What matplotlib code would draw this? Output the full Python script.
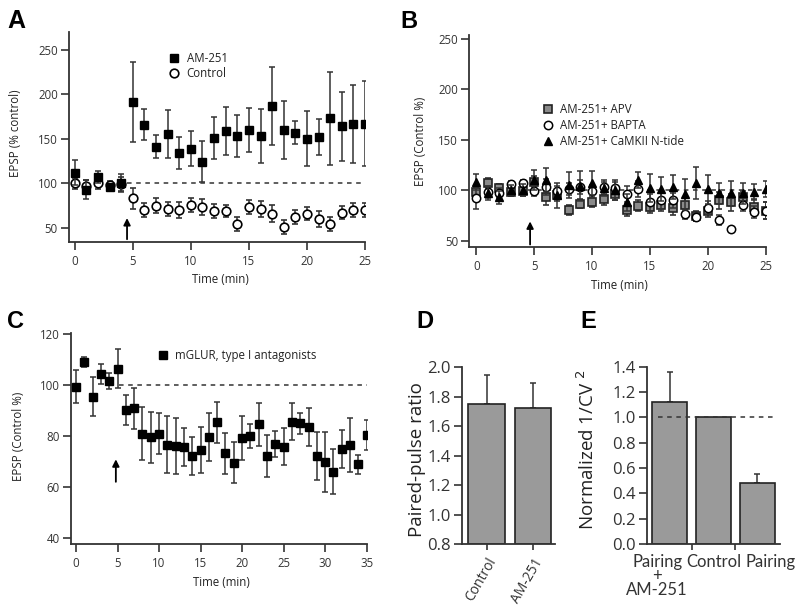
import matplotlib
matplotlib.use("Agg")
import matplotlib.pyplot as plt
import numpy as np

plt.rcParams['font.family'] = ['Open Sans', 'DejaVu Sans']
plt.rcParams['axes.linewidth'] = 1.3
plt.rcParams['axes.edgecolor'] = '#333333'
plt.rcParams['xtick.color'] = '#333333'
plt.rcParams['ytick.color'] = '#333333'
plt.rcParams['text.color'] = '#222222'
plt.rcParams['axes.labelcolor'] = '#222222'

# ---- panel A ----
time_a = list(range(0, 26))
am251_a = [112, 93, 107, 96, 100, 191, 166, 141, 155, 134, 139, 124, 151, 159, 153, 160, 153,
           187, 160, 157, 150, 152, 173, 164, 167, 167]
am251_a_err = [14, 11, 7, 3, 10, 45, 17, 13, 27, 18, 20, 23, 24, 27, 24, 25, 30,
               44, 33, 13, 31, 20, 52, 39, 44, 48]
control_a = [100, 97, 100, 98, 99, 83, 70, 75, 71, 70, 76, 73, 69, 69, 54, 73, 71,
             66, 51, 62, 66, 60, 54, 67, 70, 70]
control_a_err = [6, 7, 6, 4, 8, 12, 8, 8, 8, 9, 8, 9, 8, 7, 8, 8, 9, 10, 8, 8, 7, 9, 8, 7, 8, 8]

# ---- panel B ----
time_b = list(range(0, 26))
apv_b = [98, 107, 102, 98, 99, 108, 93, 95, 81, 87, 88, 91, 96, 81, 85, 84, 86, 83, 86, 75,
         80, 90, 88, 93, 84, 80]
apv_b_err = [5, 5, 4, 4, 5, 6, 7, 6, 5, 4, 4, 5, 6, 6, 5, 6, 6, 7, 7, 5, 6, 8, 8, 6, 7, 8]
bapta_b = [92, 98, 97, 106, 107, 99, 103, 99, 101, 103, 99, 103, 102, 96, 101, 88, 90, 90, 77,
           74, 83, 71, 62, 86, 79, 80]
bapta_b_err = [10, 6, 5, 3, 3, 5, 8, 5, 6, 7, 6, 5, 6, 8, 8, 8, 8, 7, 5, 4, 6, 5, 0, 6, 6, 8]
camkii_b = [108, 97, 93, 100, 100, 110, 110, 95, 105, 104, 107, 102, 100, 88, 110, 102, 101,
            103, 96, 107, 101, 97, 97, 97, 98, 101]
camkii_b_err = [8, 7, 6, 5, 6, 10, 12, 12, 13, 15, 12, 8, 10, 8, 8, 14, 12, 12, 15, 16, 14,
                10, 12, 10, 8, 8]

# ---- panel C ----
time_c = list(range(0, 36))
mglur_c = [99.3, 109, 95.4, 104.3, 101.6, 106.5, 90.2, 90.9, 81, 79.5, 81, 76.7, 76, 75.6,
           72.3, 74.5, 79.7, 85.4, 73.2, 69.5, 79.3, 80, 84.6, 72.2, 76.9, 75.8, 85.6, 85,
           83.6, 72.2, 69.9, 66, 74.9, 76.5, 68.9, 80.4]
mglur_c_err = [6.5, 2, 7.6, 4, 3, 7.5, 6, 8, 10.5, 10, 8, 11, 11, 7.5, 7.5, 9, 9.4, 8, 8, 8,
               8.5, 4.7, 8.5, 8.2, 5.2, 7.2, 7.2, 4.2, 7.3, 9.5, 11.8, 8.8, 7.5, 10.5, 3.6, 6]

# ---- panel D ----
ppr_labels = ["Control", "AM-251"]
ppr_vals = [1.75, 1.725]
ppr_err = [0.2, 0.17]

# ---- panel E ----
cv_labels = ["Pairing\n+\nAM-251", "Control", "Pairing"]
cv_vals = [1.12, 1.0, 0.48]
cv_err = [0.24, 0.0, 0.07]

W, H = 800, 606
fig = plt.figure(figsize=(8, 6.06), dpi=100)

SMALL = 8.3


def box(l, r, t, b):
    return [l / W, 1 - b / H, (r - l) / W, (b - t) / H]


def style(ax, fs=SMALL):
    for s in ['top', 'right']:
        ax.spines[s].set_visible(False)
    ax.tick_params(axis='y', direction='out', length=6, width=1.2, labelsize=fs, pad=2)
    ax.tick_params(axis='x', direction='out', length=5.5, width=1.2, labelsize=fs, pad=4)


def marker_legend(ax, conts, labels, anchor, spacing=0.45):
    handles = [c[0] for c in conts]
    ax.legend(handles, labels, loc='upper left', bbox_to_anchor=anchor, frameon=False,
              fontsize=SMALL, handlelength=1.0, handletextpad=0.6, borderpad=0,
              borderaxespad=0, labelspacing=spacing)


ebkw = dict(ecolor='#333333', elinewidth=1.1, capsize=2.4, capthick=1.1, linestyle='none')

# A
axA = fig.add_axes(box(69, 365, 32, 242))
style(axA)
cA2 = axA.errorbar(time_a, control_a, yerr=control_a_err, marker='o', ms=6.2, mfc='white',
                   mec='black', mew=1.2, zorder=3, **ebkw)
cA1 = axA.errorbar(time_a, am251_a, yerr=am251_a_err, marker='s', ms=6, mfc='black',
                   mec='black', zorder=4, **ebkw)
axA.plot([4.5, 25], [100, 100], ls=(0, (3, 3)), color='#333333', lw=1.1)
axA.annotate('', xy=(4.5, 64), xytext=(4.5, 34),
             arrowprops=dict(arrowstyle='-|>', color='black', lw=1.3, mutation_scale=10))
axA.set_xlim(-0.5, 25)
axA.set_ylim(34, 270)
axA.set_xticks([0, 5, 10, 15, 20, 25])
axA.set_yticks([50, 100, 150, 200, 250])
axA.set_xlabel('Time (min)', fontsize=SMALL)
axA.set_ylabel('EPSP (% control)', fontsize=SMALL)
axA.xaxis.set_label_coords(0.51, -0.148)
axA.yaxis.set_label_coords(-0.16, 0.52)
marker_legend(axA, [cA1, cA2], ['AM-251', 'Control'], (0.335, 0.905), spacing=0.15)

# B
axB = fig.add_axes(box(469.3, 765.7, 35, 247.3))
style(axB)
axB.plot([4.5, 25], [100, 100], ls=(0, (3, 3)), color='#333333', lw=1.1)
cB1 = axB.errorbar(time_b, apv_b, yerr=apv_b_err, marker='s', ms=5.5, mfc='#8a8a8a',
                   mec='#222222', mew=1.2, zorder=3, **ebkw)
cB2 = axB.errorbar(time_b, bapta_b, yerr=bapta_b_err, marker='o', ms=6, mfc='white',
                   mec='black', mew=1.1, zorder=4, **ebkw)
cB3 = axB.errorbar(time_b, camkii_b, yerr=camkii_b_err, marker='^', ms=6, mfc='black',
                   mec='black', zorder=5, **ebkw)
axB.annotate('', xy=(4.65, 72), xytext=(4.65, 43.6),
             arrowprops=dict(arrowstyle='-|>', color='black', lw=1.3, mutation_scale=10))
axB.set_xlim(-0.6, 25)
axB.set_ylim(43.6, 254)
axB.set_xticks([0, 5, 10, 15, 20, 25])
axB.set_yticks([50, 100, 150, 200, 250])
axB.set_xlabel('Time (min)', fontsize=SMALL)
axB.set_ylabel('EPSP (Control %)', fontsize=SMALL)
axB.xaxis.set_label_coords(0.508, -0.15)
axB.yaxis.set_label_coords(-0.143, 0.5)
marker_legend(axB, [cB1, cB2, cB3],
              ['AM-251+ APV', 'AM-251+ BAPTA', 'AM-251+ CaMKII N-tide'], (0.245, 0.68),
              spacing=0.25)

# C
axC = fig.add_axes(box(71, 366.7, 333.3, 544.3))
style(axC)
cC = axC.errorbar(time_c, mglur_c, yerr=mglur_c_err, marker='s', ms=5.6, mfc='black',
                  mec='black', zorder=3, **ebkw)
axC.plot([5.2, 35], [100, 100], ls=(0, (3, 3)), color='#333333', lw=1.1)
axC.annotate('', xy=(4.8, 72), xytext=(4.8, 61),
             arrowprops=dict(arrowstyle='-|>', color='black', lw=1.3, mutation_scale=10))
axC.set_xlim(-0.6, 35)
axC.set_ylim(37.6, 120.3)
axC.set_xticks([0, 5, 10, 15, 20, 25, 30, 35])
axC.set_yticks([40, 60, 80, 100, 120])
axC.set_xlabel('Time (min)', fontsize=SMALL)
axC.set_ylabel('EPSP (Control %)', fontsize=SMALL)
axC.xaxis.set_label_coords(0.51, -0.15)
axC.yaxis.set_label_coords(-0.155, 0.51)
marker_legend(axC, [cC], ['mGLUR, type I antagonists'], (0.29, 0.925))

# D
axD = fig.add_axes(box(461.7, 555, 366.7, 544.3))
style(axD, fs=12)
xd = np.arange(len(ppr_vals))
axD.bar(xd, np.array(ppr_vals) - 0.8, bottom=0.8, width=0.79, color='#9a9a9a',
        edgecolor='#222222', linewidth=1.2, zorder=2)
axD.errorbar(xd, ppr_vals, yerr=[[0, 0], ppr_err], ecolor='#333333', elinewidth=1.1,
             capsize=2, capthick=1.1, linestyle='none', zorder=1)
axD.set_xlim(-0.54, 1.475)
axD.set_ylim(0.8, 2.005)
axD.set_yticks([0.8, 1.0, 1.2, 1.4, 1.6, 1.8, 2.0])
axD.set_yticklabels(['0.8', '1.0', '1.2', '1.4', '1.6', '1.8', '2.0'])
axD.set_xticks(xd)
axD.set_xticklabels(ppr_labels, rotation=60, ha='right', rotation_mode='anchor', fontsize=10)
axD.tick_params(axis='x', length=4)
axD.set_ylabel('Paired-pulse ratio', fontsize=13.5)
axD.yaxis.set_label_coords(-0.38, 0.475)

# E
axE = fig.add_axes(box(646.7, 780, 366.7, 544))
style(axE, fs=12)
xe = np.arange(len(cv_vals))
axE.bar(xe, cv_vals, width=0.8, color='#9a9a9a', edgecolor='#222222', linewidth=1.2, zorder=2)
axE.errorbar(xe[[0, 2]], np.array(cv_vals)[[0, 2]], yerr=[[0, 0], np.array(cv_err)[[0, 2]]],
             ecolor='#333333', elinewidth=1.1, capsize=2, capthick=1.1, linestyle='none',
             zorder=1)
axE.plot([-0.27, 2.45], [1.0, 1.0], ls=(0, (3, 3)), color='#333333', lw=1.1, zorder=3)
axE.set_xlim(-0.53, 2.52)
axE.set_ylim(0, 1.4)
axE.set_yticks([0.0, 0.2, 0.4, 0.6, 0.8, 1.0, 1.2, 1.4])
axE.set_yticklabels(['0.0', '0.2', '0.4', '0.6', '0.8', '1.0', '1.2', '1.4'])
axE.set_xticks([0.5, 1.5])
axE.set_xticklabels([])
# labels sit spread outward from the bars, as in the original figure
axE.set_xticks([-0.29, 1.0, 2.31], minor=True)
axE.set_xticklabels(cv_labels, minor=True, fontsize=12, linespacing=0.85,
                    family=['Lato', 'DejaVu Sans'])
axE.tick_params(axis='x', which='major', length=4)
axE.tick_params(axis='x', which='minor', length=0, pad=7)
axE.set_ylabel('Normalized 1/CV $^{2}$', fontsize=13.5)
axE.yaxis.set_label_coords(-0.365, 0.53)

# panel letters
for txt, x, y, fs in [('A', 7, 28, 18), ('B', 400, 28, 17), ('C', 7, 328, 17),
                      ('D', 416, 328, 17), ('E', 580, 328, 17)]:
    fig.text(x / W, 1 - y / H, txt, fontsize=fs, fontweight='bold', color='black',
             family=['Liberation Sans', 'DejaVu Sans'], va='baseline')

fig.savefig('out.png', dpi=100)
